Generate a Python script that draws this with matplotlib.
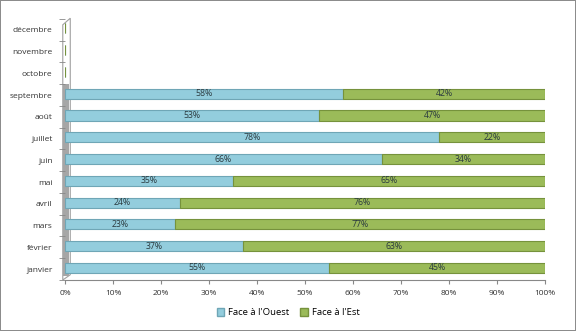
import matplotlib.pyplot as plt
import matplotlib.patches as mpatches
import numpy as np

plt.rcParams['font.family'] = ['Open Sans', 'DejaVu Sans']

mois = ['janvier', 'février', 'mars', 'avril', 'mai', 'juin', 'juillet',
        'août', 'septembre', 'octobre', 'novembre', 'décembre']
ouest = [55, 37, 23, 24, 35, 66, 78, 53, 58, None, None, None]
est = [45, 63, 77, 76, 65, 34, 22, 47, 42, None, None, None]
ticks_x = [0, 10, 20, 30, 40, 50, 60, 70, 80, 90, 100]

blue = '#93cddd'
blue_edge = '#6fa6b6'
green = '#9bbb59'
green_edge = '#76923c'

fig = plt.figure(figsize=(5.76, 3.31), dpi=100)
fig.patch.set_facecolor('white')
fig.patch.set_edgecolor('#8c8c8c')
fig.patch.set_linewidth(1.2)

ax = fig.add_axes([0.113, 0.154, 0.833, 0.789])
ax.patch.set_alpha(0)

y = np.arange(len(mois))
w = np.array([v if v is not None else 0 for v in ouest], dtype=float)
e = np.array([v if v is not None else 0 for v in est], dtype=float)
tot = w + e
tot[tot == 0] = 1
wp = w / tot * 100
ep = e / tot * 100

h = 0.46
ax.barh(y + 0.06, wp, height=h, color=blue, edgecolor=blue_edge, linewidth=0.8)
ax.barh(y + 0.06, ep, left=wp, height=h, color=green, edgecolor=green_edge, linewidth=0.8)

for i in range(len(mois)):
    if ouest[i] is None:
        continue
    ax.text(wp[i] / 2, y[i] + 0.06, f'{ouest[i]}%', ha='center', va='center',
            fontsize=6.3, color='#2b3a3f')
    ax.text(wp[i] + ep[i] / 2, y[i] + 0.06, f'{est[i]}%', ha='center', va='center',
            fontsize=6.3, color='#2b3a3f')

ax.set_xlim(0, 100)
ax.set_ylim(-0.5, 11.5)
ax.set_xticks(ticks_x)
ax.set_xticklabels([f'{t}%' for t in ticks_x], fontsize=6, color='#333333')
ax.set_yticks(y)
ax.set_yticklabels(mois, fontsize=6, color='#333333')
ax.set_yticks(np.arange(-0.5, 12, 1), minor=True)
ax.tick_params(axis='y', which='major', length=0, pad=9)
ax.tick_params(axis='y', which='minor', length=4, color='#888888', direction='out', pad=0)
ax.tick_params(axis='x', length=3, color='#888888', pad=4)

for s in ['top', 'right', 'left']:
    ax.spines[s].set_visible(False)
ax.spines['bottom'].set_color('#888888')
ax.spines['bottom'].set_linewidth(0.8)

# side wall of the 3D chart
wall = mpatches.Polygon([[0.109, 0.154], [0.109, 0.925], [0.122, 0.945], [0.122, 0.17]],
                        closed=True, transform=fig.transFigure, facecolor='white',
                        edgecolor='#a0a0a0', linewidth=0.8, zorder=-1)
fig.patches.append(wall)
shade = mpatches.Rectangle((0.110, 0.165), 0.009, 0.58, transform=fig.transFigure,
                           facecolor='#a6a6a6', edgecolor='none', zorder=-1)
fig.patches.append(shade)

handles = [mpatches.Patch(facecolor=blue, edgecolor=blue_edge, label="Face à l'Ouest"),
           mpatches.Patch(facecolor=green, edgecolor=green_edge, label="Face à l'Est")]
fig.legend(handles=handles, loc='center', bbox_to_anchor=(0.5, 0.055), ncol=2,
           frameon=False, fontsize=6.8, handlelength=0.8, handleheight=0.8,
           handletextpad=0.4, columnspacing=1.2)

fig.savefig('out.png', dpi=100)
